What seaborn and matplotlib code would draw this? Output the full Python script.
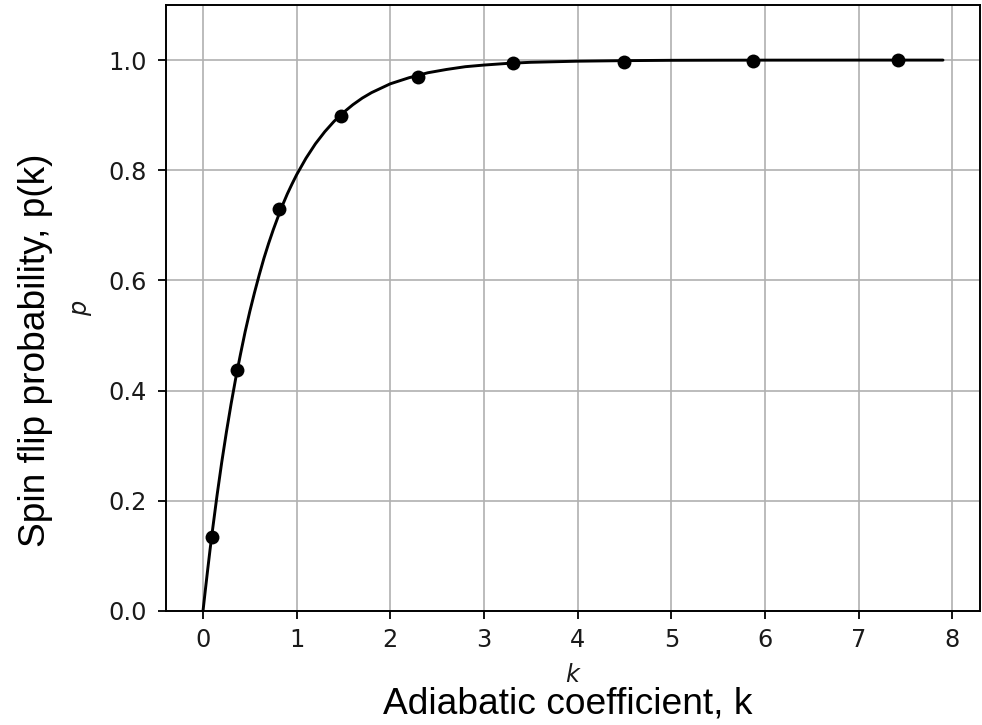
import matplotlib
matplotlib.use("Agg")
import matplotlib.pyplot as plt
import seaborn as sns
import pandas as pd

# Fitted spin-flip probability curve p(k)
curve_k = [0.0, 0.025, 0.05, 0.075, 0.1, 0.15, 0.2, 0.25, 0.3, 0.35, 0.4, 0.45,
           0.5, 0.55, 0.6, 0.65, 0.7, 0.75, 0.8, 0.85, 0.9, 0.95, 1.0, 1.1,
           1.2, 1.3, 1.4, 1.5, 1.6, 1.7, 1.8, 1.9, 2.0, 2.2, 2.4, 2.6, 2.8,
           3.0, 3.25, 3.5, 3.75, 4.0, 4.5, 5.0, 5.5, 6.0, 7.0, 7.9]
curve_p = [0.0, 0.038, 0.075, 0.111, 0.145, 0.210, 0.270, 0.325, 0.376, 0.423,
           0.466, 0.507, 0.544, 0.578, 0.610, 0.640, 0.667, 0.692, 0.715, 0.737,
           0.757, 0.775, 0.792, 0.822, 0.848, 0.870, 0.889, 0.905, 0.919, 0.931,
           0.941, 0.949, 0.957, 0.968, 0.977, 0.983, 0.988, 0.991, 0.994, 0.996,
           0.997, 0.998, 0.999, 0.9996, 0.9998, 0.9999, 1.0, 1.0]

# Simulated points
point_k = [0.10, 0.36, 0.81, 1.47, 2.29, 3.31, 4.49, 5.87, 7.42]
point_p = [0.135, 0.438, 0.729, 0.899, 0.970, 0.994, 0.997, 0.999, 1.0]

curve = pd.DataFrame({"k": curve_k, "p": curve_p})
points = pd.DataFrame({"k": point_k, "p": point_p})

sns.set_style("ticks", {"axes.grid": True, "grid.color": "#b0b0b0",
                        "axes.edgecolor": "black", "xtick.direction": "out",
                        "ytick.direction": "out"})
plt.rcParams["font.family"] = ["DejaVu Sans"]

fig = plt.figure(figsize=(9.82, 7.25), dpi=100)
ax = fig.add_axes([166 / 982, 1 - 611 / 725, (980 - 166) / 982, (611 - 5) / 725])

sns.lineplot(data=curve, x="k", y="p", ax=ax, color="black", linewidth=2.1)
sns.scatterplot(data=points, x="k", y="p", ax=ax, color="black", s=100,
                edgecolor="black", linewidth=0, zorder=3)

ax.set_xlim(-0.395, 8.295)
ax.set_ylim(0, 1.1)
ax.set_xticks(range(0, 9))
ax.set_yticks([0.0, 0.2, 0.4, 0.6, 0.8, 1.0])
ax.tick_params(labelsize=17.3, length=6, width=1.3, pad=6.5, color="black",
               labelcolor="#1a1a1a")
ax.tick_params(axis="y", pad=8)
ax.grid(True, color="#b0b0b0", linewidth=1.2)
for s in ax.spines.values():
    s.set_linewidth(1.4)
    s.set_color("black")

ax.set_xlabel("$k$", fontsize=17.3, labelpad=7.5, color="#1a1a1a")
ax.set_ylabel("$p$", fontsize=17.3, labelpad=10, color="#1a1a1a")

fig.text(568 / 982, 1 - 714 / 725, "Adiabatic coefficient, k", fontsize=26.7,
         family="Liberation Sans", color="black", ha="center", va="baseline")
fig.text(45 / 982, 1 - 350 / 725, "Spin flip probability, p(k)", fontsize=26.7,
         family="Liberation Sans", color="black", rotation=90,
         ha="center", va="baseline", rotation_mode="anchor")

fig.savefig("out.png", dpi=100)
